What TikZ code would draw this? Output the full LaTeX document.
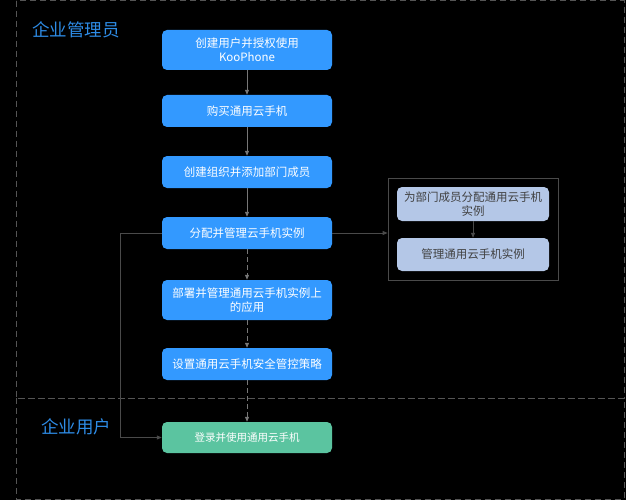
\documentclass[tikz,border=0pt]{standalone}
\usepackage{fontspec}
\setmainfont{Noto Sans CJK SC}
\usetikzlibrary{arrows.meta,positioning}
\definecolor{boxblue}{HTML}{3399FF}
\definecolor{boxgreen}{HTML}{5BC4A0}
\definecolor{boxlight}{HTML}{B4C7E7}
\definecolor{titleblue}{HTML}{2E8CE6}
\definecolor{lanegray}{HTML}{555555}
\definecolor{arrowgray}{HTML}{777777}
\definecolor{linkgray}{HTML}{4A4A4A}
\begin{document}
\begin{tikzpicture}[x=1pt,y=-1pt,
  stepbox/.style={draw=none,fill=boxblue,rounded corners=5pt,minimum width=170pt,inner sep=0pt,
    text=white,align=center,font=\fontsize{11.5}{14}\selectfont},
  userbox/.style={stepbox,fill=boxgreen,font=\fontsize{10.5}{13}\selectfont},
  subbox/.style={draw=none,fill=boxlight,rounded corners=5pt,minimum width=152pt,inner sep=0pt,
    text=black!75,align=center,font=\fontsize{11.5}{14}\selectfont},
  lanetitle/.style={text=titleblue,font=\fontsize{17.5}{20}\selectfont,inner sep=0pt},
  flow/.style={draw=arrowgray,line width=0.8pt,-{Triangle[length=5pt,width=4pt]}},
  link/.style={draw=linkgray,line width=0.8pt,-{Triangle[length=5pt,width=4pt]}},
  lane/.style={draw=lanegray,line width=1pt,dash pattern=on 6pt off 4pt}]
\fill[black] (0,0) rectangle (626,500);
\useasboundingbox (0,0) rectangle (626,500);
% lanes
\draw[lane] (16,1) rectangle (624,398);
\draw[lane] (16,398) rectangle (624,499);
\node[lanetitle] (t1) at (76,30) {企业管理员};
\node[lanetitle] (t2) at (76,427) {企业用户};
% main steps
\node[stepbox,minimum height=40pt] (b1) at (247,50) {创建用户并授权使用\\KooPhone};
\node[stepbox,minimum height=32pt] (b2) at (247,111) {购买通用云手机};
\node[stepbox,minimum height=32pt] (b3) at (247,172) {创建组织并添加部门成员};
\node[stepbox,minimum height=32pt] (b4) at (247,233) {分配并管理云手机实例};
\node[stepbox,minimum height=40pt] (b5) at (247,300) {部署并管理通用云手机实例上\\的应用};
\node[stepbox,minimum height=32pt] (b6) at (247,364) {设置通用云手机安全管控策略};
\node[userbox,minimum height=31pt] (g) at (247,437.5) {登录并使用通用云手机};
% group
\node[draw=linkgray,line width=0.8pt,fill=black,minimum width=170pt,minimum height=102pt,inner sep=0pt] (grp) at (473,229) {};
\node[subbox,minimum height=34pt] (sa) at (473,204) {为部门成员分配通用云手机\\实例};
\node[subbox,minimum height=33pt] (sb) at (473,254.5) {管理通用云手机实例};
% connectors
\draw[flow] (b1) -- (b2);
\draw[flow] (b2) -- (b3);
\draw[flow] (b3) -- (b4);
\draw[flow,dash pattern=on 5pt off 3pt] (b4) -- (b5);
\draw[flow,dash pattern=on 5pt off 3pt] (b5) -- (b6);
\draw[flow,dash pattern=on 5pt off 3pt] (b6) -- (g);
\draw[link] (sa) -- (sb);
\draw[link] (b4.east) -- (b4.east -| grp.west);
\coordinate (c1) at (120,233);
\coordinate (c2) at (120,437.5);
\draw[link] (b4.west) -- (c1) -- (c2) -- (g.west);
\end{tikzpicture}
\end{document}
